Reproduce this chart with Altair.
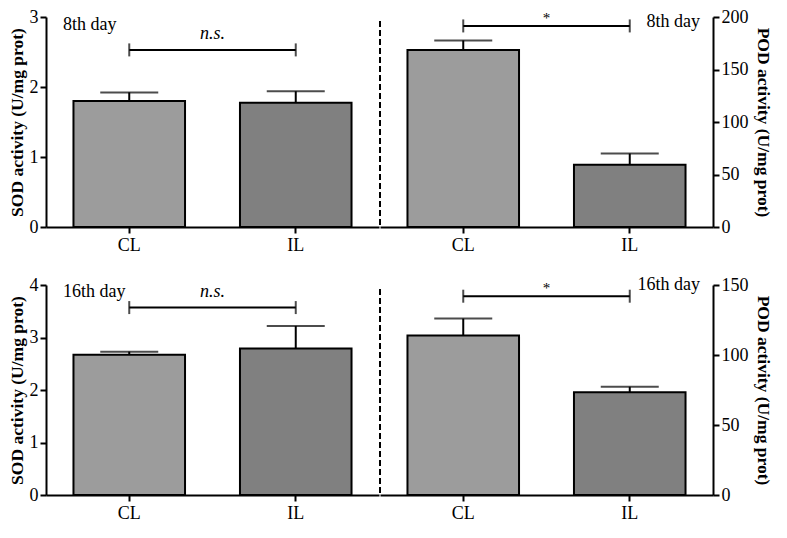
import altair as alt
import pandas as pd

groups = ["CL", "IL"]
fills = ["#9c9c9c", "#808080"]

sod8 = [1.80, 1.775]
sod8_err = [0.123, 0.165]
pod8 = [168.5, 59.4]
pod8_err = [9.2, 10.6]
sod16 = [2.67, 2.79]
sod16_err = [0.06, 0.43]
pod16 = [114.0, 73.4]
pod16_err = [12.0, 3.9]

brackets = {"sod8": 2.53, "pod8": 191.5, "sod16": 3.57, "pod16": 142.0}
sig_y = {"sod8": 2.76, "pod8": 199.0, "sod16": 3.86, "pod16": 148.0}
day_y = {"sod8": 2.89, "pod8": 195.0, "sod16": 3.86, "pod16": 150.0}

W = 333
H = 210
FONT = "Liberation Serif"


def panel(key, values, errs, domain, ticks, title, side, day, sig):
    df = pd.DataFrame({
        "g": groups,
        "v": values,
        "top": [v + e for v, e in zip(values, errs)],
        "fill": fills,
    })
    br = pd.DataFrame({"g": groups, "b": [brackets[key]] * 2})
    br1 = pd.DataFrame({"g1": ["CL"], "g2": ["IL"], "b": [brackets[key]]})
    txt = pd.DataFrame({"t": [sig], "y": [sig_y[key]]})
    dtxt = pd.DataFrame({"t": [day], "y": [day_y[key]]})

    xs = alt.Scale(domain=groups, paddingInner=0.33, paddingOuter=0.165)
    x = alt.X("g:N", scale=xs, sort=groups,
              axis=alt.Axis(title=None, labelAngle=0, labelPadding=3))
    ys = alt.Scale(domain=domain, nice=False, zero=True)
    y = alt.Y("v:Q", scale=ys,
              axis=alt.Axis(orient=side, values=ticks, title=title, format="d",
                            titlePadding=3 if side == "left" else 5))

    bars = alt.Chart(df).mark_bar(stroke="black", strokeWidth=2).encode(
        x=x, y=y, fill=alt.Fill("fill:N", scale=None))
    stem = alt.Chart(df).mark_rule(color="black", strokeWidth=2).encode(
        x=alt.X("g:N", scale=xs, sort=groups), y=alt.Y("v:Q", scale=ys), y2="top:Q")
    cap = alt.Chart(df).mark_tick(color="black", thickness=2, size=58).encode(
        x=alt.X("g:N", scale=xs, sort=groups), y=alt.Y("top:Q", scale=ys))
    bline = alt.Chart(br1).mark_rule(color="black", strokeWidth=2).encode(
        x=alt.X("g1:N", scale=xs, sort=groups), x2="g2:N", y=alt.Y("b:Q", scale=ys))
    bend = alt.Chart(br).mark_tick(color="black", thickness=2, size=13, orient="vertical").encode(
        x=alt.X("g:N", scale=xs, sort=groups), y=alt.Y("b:Q", scale=ys))
    stxt = alt.Chart(txt).mark_text(
        font=FONT, fontSize=18 if sig != "*" else 15,
        fontStyle="italic" if sig != "*" else "normal",
        baseline="middle", align="center", color="black").encode(
        x=alt.value(W / 2), y=alt.Y("y:Q", scale=ys), text="t:N")
    if side == "left":
        dmark = alt.Chart(dtxt).mark_text(font=FONT, fontSize=18, align="left",
                                          baseline="middle", color="black").encode(
            x=alt.value(17), y=alt.Y("y:Q", scale=ys), text="t:N")
    else:
        dmark = alt.Chart(dtxt).mark_text(font=FONT, fontSize=18, align="right",
                                          baseline="middle", color="black").encode(
            x=alt.value(W - 13), y=alt.Y("y:Q", scale=ys), text="t:N")
    layers = [bars, stem, cap, bline, bend, stxt, dmark]
    if side == "right":
        dash = alt.Chart(dtxt).mark_rule(color="black", strokeWidth=2,
                                         strokeDash=[6, 3]).encode(
            x=alt.value(0), y=alt.value(4), y2=alt.value(H))
        layers.append(dash)
    return alt.layer(*layers).properties(width=W, height=H)


sod_title = "SOD activity (U/mg prot)"
pod_title = "POD activity (U/mg prot)"

row1 = alt.hconcat(
    panel("sod8", sod8, sod8_err, [0, 3], [0, 1, 2, 3], sod_title, "left", "8th day", "n.s."),
    panel("pod8", pod8, pod8_err, [0, 200], [0, 50, 100, 150, 200], pod_title, "right", "8th day", "*"),
    spacing=0)
row2 = alt.hconcat(
    panel("sod16", sod16, sod16_err, [0, 4], [0, 1, 2, 3, 4], sod_title, "left", "16th day", "n.s."),
    panel("pod16", pod16, pod16_err, [0, 150], [0, 50, 100, 150], pod_title, "right", "16th day", "*"),
    spacing=0)

chart = alt.vconcat(row1, row2, spacing=22).configure_view(stroke=None).configure_axis(
    grid=False,
    domainColor="black", domainWidth=2,
    tickColor="black", tickWidth=2, tickSize=6,
    labelFont=FONT, labelFontSize=18, labelColor="black",
    titleFont=FONT, titleFontSize=17.5, titleFontWeight="bold", titleColor="black",
).properties(padding={"left": 0, "top": 0, "right": 6, "bottom": 0})

chart.save("out.html", embed_options={"renderer": "svg", "actions": False})
